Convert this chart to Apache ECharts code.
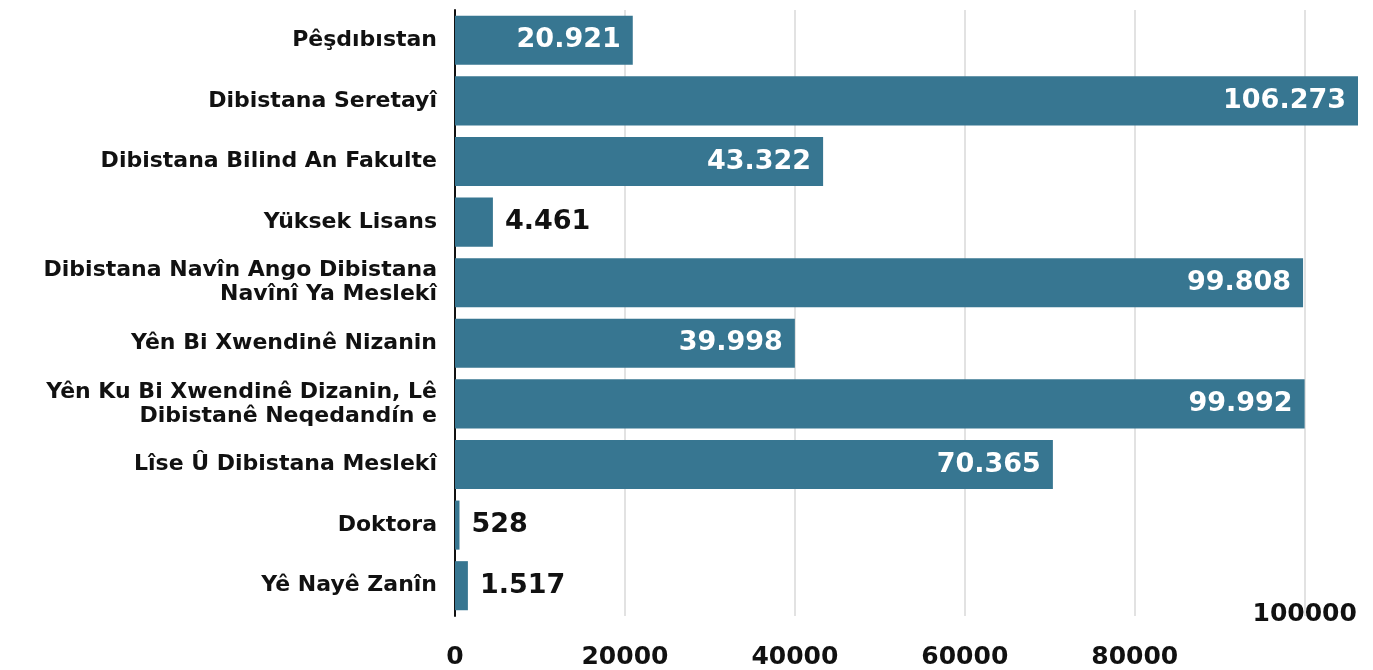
<!DOCTYPE html>
<html>
<head>
<meta charset="utf-8">
<script src="https://cdn.jsdelivr.net/npm/echarts@6/dist/echarts.min.js"></script>
<style>
  html, body { margin: 0; padding: 0; background: #fff; }
  #chart { width: 1373px; height: 670px; }
</style>
</head>
<body>
<div id="chart"></div>
<script>
  var categories = [
    'Pêşdıbıstan',
    'Dibistana Seretayî',
    'Dibistana Bilind An Fakulte',
    'Yüksek Lisans',
    'Dibistana Navîn Ango Dibistana\nNavînî Ya Meslekî',
    'Yên Bi Xwendinê Nizanin',
    'Yên Ku Bi Xwendinê Dizanin, Lê\nDibistanê Neqedandín e',
    'Lîse Û Dibistana Meslekî',
    'Doktora',
    'Yê Nayê Zanîn'
  ];
  var values = [20921, 106273, 43322, 4461, 99808, 39998, 99992, 70365, 528, 1517];
  var tickValues = [0, 20000, 40000, 60000, 80000, 100000];

  var fontFamily = '"DejaVu Sans", sans-serif';
  var barColor = '#377691';
  var maxValue = Math.max.apply(null, values);

  function fmt(v) {
    return String(v).replace(/\B(?=(\d{3})+(?!\d))/g, '.');
  }

  var seriesData = values.map(function (v) {
    var inside = v > 10000;
    return {
      value: v,
      label: {
        show: true,
        position: inside ? 'insideRight' : 'right',
        distance: 12,
        color: inside ? '#fff' : '#111',
        fontSize: 27,
        fontWeight: 'bold',
        fontFamily: fontFamily,
        formatter: function (p) { return fmt(p.value); }
      }
    };
  });

  var chart = echarts.init(document.getElementById('chart'));
  chart.setOption({
    animation: false,
    grid: { left: 455, right: 15, top: 10, bottom: 53, containLabel: false },
    xAxis: [{
      type: 'value',
      min: 0,
      max: maxValue,
      interval: 20000,
      axisLine: { show: false },
      axisTick: { show: false },
      splitLine: { show: true, showMinLine: false, showMaxLine: false, lineStyle: { color: '#d9d9d9', width: 1.5 } },
      axisLabel: {
        margin: 29,
        fontSize: 25,
        fontWeight: 'bold',
        color: '#111',
        fontFamily: fontFamily,
        showMaxLabel: false,
        formatter: function (v) {
          return (tickValues.indexOf(v) >= 0 && v !== 100000) ? String(v) : '';
        }
      }
    }, {
      // the 100000 tick label sits higher, just above the axis
      type: 'value',
      position: 'bottom',
      min: 0,
      max: maxValue,
      interval: 20000,
      axisLine: { show: false },
      axisTick: { show: false },
      splitLine: { show: false },
      axisLabel: {
        margin: -14,
        fontSize: 25,
        fontWeight: 'bold',
        color: '#111',
        fontFamily: fontFamily,
        showMaxLabel: false,
        formatter: function (v) { return v === 100000 ? String(v) : ''; }
      }
    }],
    yAxis: {
      type: 'category',
      inverse: true,
      data: categories,
      axisLine: { show: true, lineStyle: { color: '#111', width: 2 } },
      axisTick: { show: false },
      axisLabel: {
        margin: 18,
        fontSize: 22,
        lineHeight: 24,
        fontWeight: 'bold',
        color: '#111',
        fontFamily: fontFamily,
        align: 'right',
        padding: [6, 0, 0, 0]
      }
    },
    series: [{
      type: 'bar',
      xAxisIndex: 0,
      data: seriesData,
      barCategoryGap: '19%',
      itemStyle: { color: barColor }
    }]
  });
</script>
</body>
</html>
